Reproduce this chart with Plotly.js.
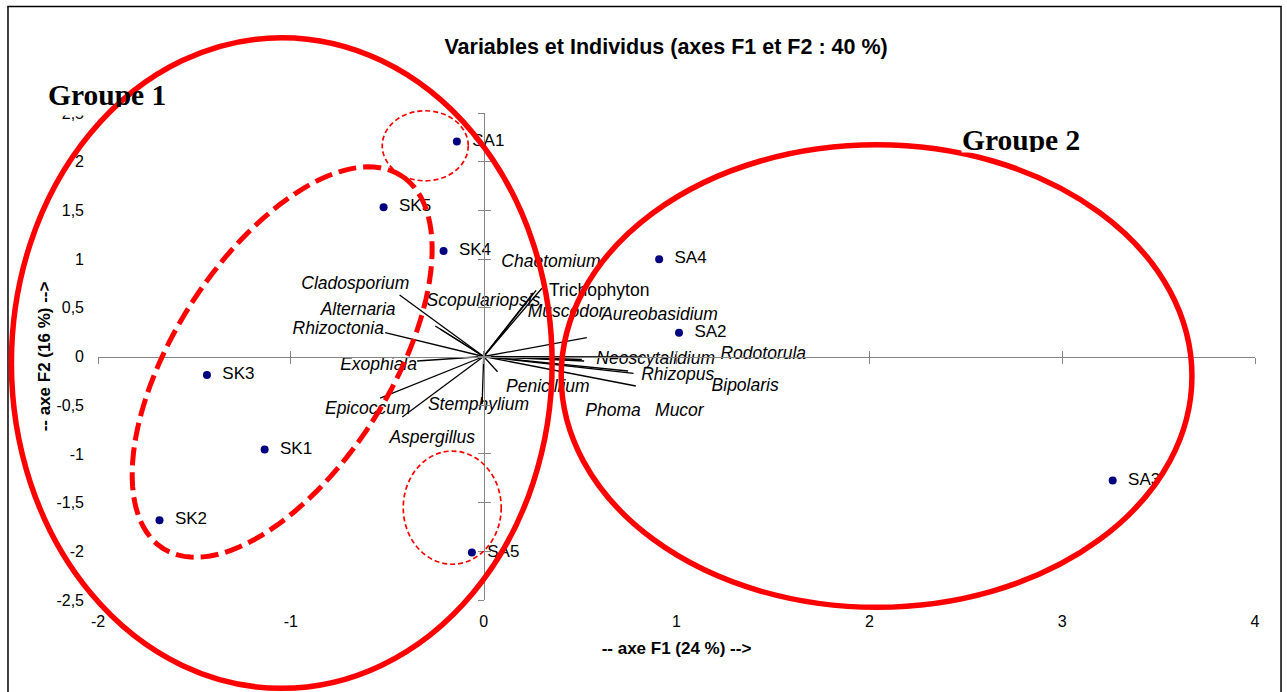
<!DOCTYPE html>
<html><head><meta charset="utf-8">
<script src="https://cdn.plot.ly/plotly-3.0.1.min.js"></script>
<style>html,body{margin:0;padding:0;background:#fff;}#chart{width:1287px;height:692px;}</style>
</head><body><div id="chart"></div>
<script>
// ---------- Individuals (observations) ----------
const indNames = ["SA1","SA2","SA3","SA4","SA5","SK1","SK2","SK3","SK4","SK5"];
const indF1 = [-0.139, 1.013, 3.262, 0.910, -0.061, -1.136, -1.681, -1.435, -0.208, -0.519];
const indF2 = [2.208, 0.245, -1.272, 0.999, -2.012, -0.954, -1.680, -0.190, 1.084, 1.533];

// ---------- Variables (genera) : vector end points ----------
const varNames = ["Chaetomium","Trichophyton","Muscodor","Scopulariopsis","Alternaria","Cladosporium","Rhizoctonia","Exophiala","Epicoccum","Aspergillus","Stemphylium","Penicillium","Aureobasidium","Rodotorula","Neoscytalidium","Phoma","Rhizopus","Bipolaris","Mucor"];
const varF1 = [0.302, 0.272, 0.257, -0.226, -0.251, -0.436, -0.511, -0.345, -0.537, -0.422, -0.008, 0.072, 0.535, 0.822, 0.509, 0.521, 0.777, 0.789, 0.749];
const varF2 = [0.701, 0.678, 0.653, 0.283, 0.313, 0.632, 0.245, -0.046, -0.427, -0.622, -0.488, -0.156, 0.193, -0.003, -0.031, -0.046, -0.173, -0.303, -0.149];

// ---------- Tick labels ----------
const xTickVals = [-2, -1, 0, 1, 2, 3, 4];
const xTickText = ["-2", "-1", "0", "1", "2", "3", "4"];
const yTickVals = [-2.5, -2, -1.5, -1, -0.5, 0, 0.5, 1, 1.5, 2, 2.5];
const yTickText = ["-2,5", "-2", "-1,5", "-1", "-0,5", "0", "0,5", "1", "1,5", "2", "2,5"];

// ---------- Text & layout settings (positions of labels, annotations) ----------
const chartTitle = "Variables et Individus (axes F1 et F2 : 40 %)";
const xTitle = "-- axe F1 (24 %) -->";
const yTitle = "-- axe F2 (16 %) -->";
const groupLabels = ["Groupe 1", "Groupe 2"];
const uprightNames = ["Trichophyton"];
// label anchor (centre) of each variable name, in axis units
const varLabelPos = [[0.349,0.964],[0.599,0.666],[0.428,0.450],[-0.001,0.563],[-0.651,0.471],[-0.666,0.735],[-0.754,0.280],[-0.545,-0.098],[-0.601,-0.543],[-0.267,-0.841],[-0.027,-0.506],[0.333,-0.321],[0.912,0.416],[1.450,0.015],[0.892,-0.036],[0.671,-0.567],[1.006,-0.200],[1.356,-0.310],[1.015,-0.567]];
// hand-drawn group outlines (axis units)
const outlineG1 = {x0:-2.449, x1:0.355, y0:-3.407, y1:3.273};
const outlineG2 = {x0:0.402, x1:3.673, y0:-2.575, y1:2.174};
const outlineSA1 = {x0:-0.526, x1:-0.080, y0:1.804, y1:2.523};
const outlineSA5 = {x0:-0.417, x1:0.091, y0:-2.133, y1:-0.971};
const outlineSK = {cx:-1.045, cy:-0.057, ux:0.6187, uy:1.9124, vx:0.4714, vy:-0.5994};

const xr = [-2, 4], yr = [-2.5, 2.5];
const FONT = 'Arial, "Liberation Sans", sans-serif';
const SERIF = '"Times New Roman", "Liberation Serif", serif';
const AX = '#868686';
const RED = '#FF0000';

const px = v => (v - xr[0]) / (xr[1] - xr[0]);
const py = v => (v - yr[0]) / (yr[1] - yr[0]);

// vectors
const vx = [], vy = [];
varNames.forEach((n, i) => { vx.push(0, varF1[i], null); vy.push(0, varF2[i], null); });

const traces = [
  {type:'scatter', mode:'lines', x:vx, y:vy, line:{color:'#000', width:1.3}, hoverinfo:'skip', showlegend:false},
  {type:'scatter', mode:'text', x:varLabelPos.map(p=>p[0]), y:varLabelPos.map(p=>p[1]),
   text:varNames.map(n => uprightNames.includes(n) ? n : '<i>'+n+'</i>'),
   textposition:'middle center', textfont:{family:FONT, size:17.5, color:'#000'}, hoverinfo:'skip', showlegend:false},
  {type:'scatter', mode:'markers', x:indF1, y:indF2, marker:{color:'#000080', size:8}, hoverinfo:'skip', showlegend:false},
  {type:'scatter', mode:'markers+text', x:indF1, y:indF2, text:indNames, textposition:'middle right',
   marker:{color:'rgba(0,0,0,0)', size:23}, textfont:{family:FONT, size:17, color:'#000'}, hoverinfo:'skip', showlegend:false},
  {type:'scatter', x:[null], y:[null], xaxis:'x2', yaxis:'y2', hoverinfo:'skip', showlegend:false},
  {type:'scatter', x:[null], y:[null], xaxis:'x3', yaxis:'y3', hoverinfo:'skip', showlegend:false}
];

// SK outline path
let skPath = '';
const N = 120;
for (let k = 0; k <= N; k++) {
  const t = 2 * Math.PI * k / N;
  const X = outlineSK.cx + outlineSK.ux * Math.cos(t) + outlineSK.vx * Math.sin(t);
  const Y = outlineSK.cy + outlineSK.uy * Math.cos(t) + outlineSK.vy * Math.sin(t);
  skPath += (k === 0 ? 'M' : 'L') + px(X).toFixed(5) + ',' + py(Y).toFixed(5);
}
skPath += 'Z';

const circ = (o, w, dash) => ({type:'circle', xref:'paper', yref:'paper', x0:px(o.x0), x1:px(o.x1), y0:py(o.y0), y1:py(o.y1), line:{color:RED, width:w, dash:dash}, layer:'above'});

const tickAxis = (base, extra) => Object.assign({range: base, showgrid:false, zeroline:false, showticklabels:false, fixedrange:true, tickcolor:AX, tickwidth:1, ticklen:6, linecolor:AX, linewidth:1}, extra);

// pixel -> paper helpers for the text-box mask
const PL = 98, PW = 1157, PB = 600, PH = 486.5;
const ppx = p => (p - PL) / PW, ppy = p => (PB - p) / PH;

const layout = {
  width:1287, height:692,
  margin:{l:98, r:32, t:113, b:92},
  paper_bgcolor:'#fff', plot_bgcolor:'#fff',
  font:{family:FONT, color:'#000', size:16},
  title:{text:'<b>'+chartTitle+'</b>', x:0.491, xref:'paper', xanchor:'center', y:1-46/692, yref:'container', yanchor:'middle', font:{family:FONT, size:21.5, color:'#000'}},
  showlegend:false,
  xaxis:{range:xr, tickvals:xTickVals, ticktext:xTickText, ticks:'', showline:false, zeroline:false, showgrid:false, fixedrange:true,
         ticklabelstandoff:10, tickfont:{family:FONT, size:16, color:'#000'},
         title:{text:'<b>'+xTitle+'</b>', font:{family:FONT, size:17, color:'#000'}, standoff:13}},
  yaxis:{range:yr, tickvals:yTickVals, ticktext:yTickText, ticks:'', showline:false, zeroline:false, showgrid:false, fixedrange:true,
         ticklabelstandoff:13, tickfont:{family:FONT, size:16, color:'#000'},
         title:{text:'<b>'+yTitle+'</b>', font:{family:FONT, size:17, color:'#000'}, standoff:1}},
  xaxis2: tickAxis(xr, {overlaying:'x', anchor:'free', position:py(0), tickvals:xTickVals, ticks:'outside', showline:true}),
  xaxis3: tickAxis(xr, {overlaying:'x', anchor:'free', position:py(0), tickvals:xTickVals, ticks:'inside', showline:false}),
  yaxis2: tickAxis(yr, {overlaying:'y', anchor:'free', position:px(0), tickvals:yTickVals, ticks:'outside', showline:true}),
  yaxis3: tickAxis(yr, {overlaying:'y', anchor:'free', position:px(0), tickvals:yTickVals, ticks:'inside', showline:false}),
  shapes:[
    {type:'rect', xref:'paper', yref:'paper', x0:-0.0778, x1:1.0225, y0:-0.26, y1:1.2189, line:{color:'#000', width:1.5}, layer:'below'},
    // white text box of the "Groupe 1" label, which hides most of the top tick label
    {type:'rect', xref:'paper', yref:'paper', x0:ppx(40), x1:ppx(175), y0:ppy(116), y1:ppy(78), line:{width:0}, fillcolor:'#fff', layer:'above'},
    circ(outlineG1, 5.5, 'solid'),
    circ(outlineG2, 5.5, 'solid'),
    circ(outlineSA1, 1.7, '5px,3px'),
    circ(outlineSA5, 1.7, '5px,3px'),
    {type:'path', xref:'paper', yref:'paper', path:skPath, line:{color:RED, width:5, dash:'18px,7px'}, layer:'above'}
  ],
  annotations:[
    {xref:'paper', yref:'paper', x:ppx(106.5), y:ppy(79), xanchor:'center', yanchor:'top', text:'<b>'+groupLabels[0]+'</b>',
     showarrow:false, font:{family:SERIF, size:29.5, color:'#000'}, height:28, valign:'top', borderpad:0},
    {xref:'paper', yref:'paper', x:ppx(1020.5), y:ppy(123), xanchor:'center', yanchor:'top', text:'<b>'+groupLabels[1]+'</b>',
     showarrow:false, font:{family:SERIF, size:29.5, color:'#000'}, bgcolor:'#fff', height:28, valign:'top', borderpad:0}
  ]
};

Plotly.newPlot('chart', traces, layout, {displayModeBar:false, staticPlot:true});
</script>
</body></html>
